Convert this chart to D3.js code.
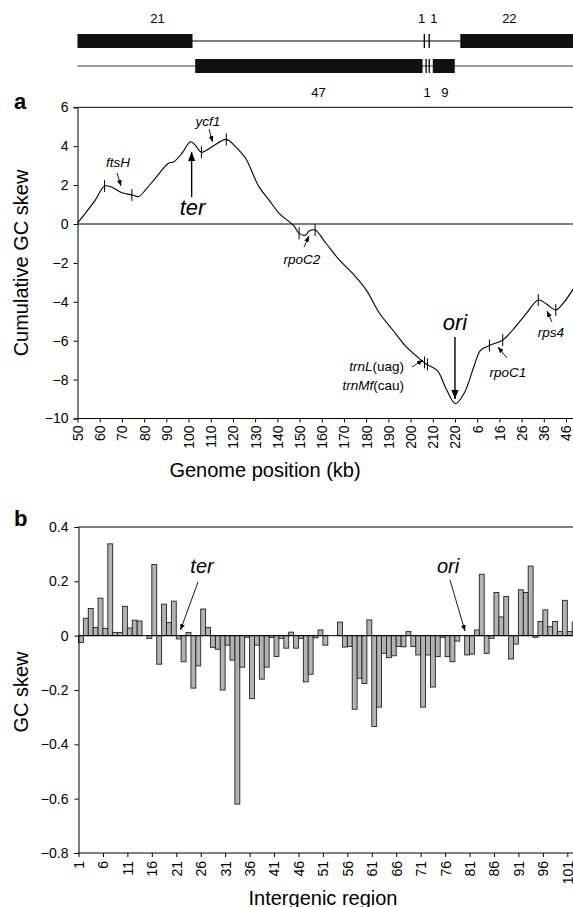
<!DOCTYPE html>
<html>
<head>
<meta charset="utf-8">
<script src="https://cdnjs.cloudflare.com/ajax/libs/d3/7.8.5/d3.min.js"></script>
<style>
	body { margin: 0; background: #fff; }
	svg { display: block; font-family: "Liberation Sans", Arial, sans-serif; }
</style>
</head>
<body>
<div id="chart"></div>
<script>
/*

*	Data

*/

// panel a : cumulative GC skew along the genome (kb, shifted so 6 = 230)
var genomeKb = [50, 53.5, 58, 62.2, 65.5, 70, 74.5, 77.5, 80.6, 85, 91, 93.4, 97, 100.9, 103, 105.8, 110.6, 117, 121.2, 125.7,
	131.7, 136.3, 140.8, 145.3, 147.5, 149.8, 152.8, 154.3, 157, 161.9, 167.9, 173.9, 180, 186, 192, 198, 205.3, 207, 212, 216,
	220.2, 224.3, 228.5, 231.5, 235.5, 241.5, 246, 252.2, 257.5, 261.2, 265.4, 268.7, 273.5];
var cumSkew = [0.05, 0.55, 1.23, 1.95, 1.89, 1.61, 1.49, 1.41, 1.75, 2.35, 3.12, 3.2, 3.63, 4.23, 4.06, 3.69, 3.97, 4.35, 3.97, 3.38,
	1.92, 1.23, 0.55, 0.12, -0.1, -0.48, -0.57, -0.36, -0.31, -0.99, -1.85, -2.54, -3.39, -4.59, -5.45, -6.31, -7.05, -7.2, -7.53, -8.47,
	-9.23, -8.66, -7.34, -6.5, -6.25, -5.97, -5.45, -4.59, -3.91, -4.11, -4.42, -4.08, -3.3];

var genomeTicks = [50, 60, 70, 80, 90, 100, 110, 120, 130, 140, 150, 160, 170, 180, 190, 200, 210, 220, 230, 240, 250, 260, 270];
var genomeTickLabels = ['50', '60', '70', '80', '90', '100', '110', '120', '130', '140', '150', '160', '170', '180', '190', '200',
	'210', '220', '6', '16', '26', '36', '46'];
var skewTicks = [6, 4, 2, 0, -2, -4, -6, -8, -10];

// gene boundaries marked on the curve
var markerKb = [62.2, 74.5, 105.8, 117, 149.8, 157, 206.3, 207.6, 235.5, 241.5, 257.5, 265.4];
var markerSkew = [1.95, 1.49, 3.69, 4.35, -0.48, -0.31, -7.12, -7.22, -6.25, -5.97, -3.91, -4.42];

// gene blocks above panel a : [start kb, end kb]
var strandTop = [[50, 101.8], [222.4, 275]];
var strandTopTicks = [206.2, 208.4];
var strandTopCountKb = [86, 205, 210.5, 244.5];
var strandTopCounts = ['21', '1', '1', '22'];
var strandBottom = [[103, 205.4], [210, 219.9]];
var strandBottomTicks = [207, 208.4];
var strandBottomCountKb = [158.5, 207.5, 215.5];
var strandBottomCounts = ['47', '1', '9'];

// panel b : GC skew of each intergenic region
var regionSkew = [-0.025, 0.064, 0.1, 0.03, 0.138, 0.027, 0.338, 0.012, 0.012, 0.108,
	0.028, 0.057, 0.054, 0, -0.01, 0.262, -0.105, 0.116, 0.048, 0.127,
	-0.012, -0.096, 0.012, -0.193, -0.111, 0.098, 0.03, -0.043, -0.05, -0.2,
	-0.035, -0.09, -0.62, -0.116, -0.006, -0.232, -0.035, -0.16, -0.116, -0.007,
	-0.077, -0.01, -0.046, 0.013, -0.046, -0.01, -0.17, -0.142, -0.008, 0.021,
	-0.035, 0, 0, 0.05, -0.042, -0.04, -0.271, -0.157, -0.176, 0.058,
	-0.334, -0.263, -0.065, -0.081, -0.074, -0.04, -0.041, 0.015, -0.04, -0.071,
	-0.263, -0.071, -0.189, -0.077, -0.006, -0.077, -0.096, -0.02, 0, -0.071,
	-0.068, 0.021, 0.226, -0.065, -0.01, 0.159, 0.069, 0.144, -0.086, -0.031,
	0.169, 0.159, 0.256, -0.006, 0.052, 0.095, 0.033, 0.052, 0.015, 0.13,
	0.015, 0.05];
var regionTicks = [1, 6, 11, 16, 21, 26, 31, 36, 41, 46, 51, 56, 61, 66, 71, 76, 81, 86, 91, 96, 101];
var regionSkewTicks = [0.4, 0.2, 0, -0.2, -0.4, -0.6, -0.8];

/*

*	Setup

*/

var W = 573, H = 907;

var svg = d3
	.select('#chart')
	.append('svg')
	.attr('width', W)
	.attr('height', H);

var defs = svg.append('defs');
function addArrow(id, size) {
	defs
		.append('marker')
		.attr('id', id)
		.attr('viewBox', '0 0 10 10')
		.attr('refX', 10)
		.attr('refY', 5)
		.attr('markerUnits', 'userSpaceOnUse')
		.attr('markerWidth', size)
		.attr('markerHeight', size)
		.attr('orient', 'auto')
		.append('path')
		.attr('d', 'M0,1 L10,5 L0,9 Z')
		.attr('fill', '#000');
}
addArrow('big', 9);
addArrow('small', 6);

function styleAxis(g) {
	g.selectAll('path, line').attr('stroke', '#000').attr('stroke-width', 1);
	g.selectAll('text').attr('font-size', 14).attr('fill', '#000').attr('font-family', '"Liberation Sans", Arial, sans-serif');
}

function arrow(g, x1, y1, x2, y2, kind) {
	g.append('line')
		.attr('x1', x1).attr('y1', y1)
		.attr('x2', x2).attr('y2', y2)
		.attr('stroke', '#000')
		.attr('stroke-width', kind == 'big' ? 1.4 : 0.9)
		.attr('marker-end', 'url(#' + kind + ')');
}

function italicLabel(g, x, y, size, anchor, parts) {
	var t = g.append('text').attr('x', x).attr('y', y).attr('font-size', size).attr('text-anchor', anchor);
	parts.forEach(function (p) {
		t.append('tspan').attr('font-style', p[1] ? 'italic' : 'normal').text(p[0]);
	});
}

/*

*	Panel a

*/

var xa = d3.scaleLinear().domain([50, 270]).range([77.5, 566]);
var ya = d3.scaleLinear().domain([-10, 6]).range([418.5, 107.3]);

// gene strands on top
var strands = svg.append('g');
strands.append('line').attr('x1', xa(50)).attr('x2', W).attr('y1', 41).attr('y2', 41).attr('stroke', '#000');
strands.append('line').attr('x1', xa(50)).attr('x2', W).attr('y1', 66).attr('y2', 66).attr('stroke', '#000').attr('stroke-width', 0.8);

strands.selectAll('rect.top')
	.data(strandTop)
	.enter()
	.append('rect')
	.attr('x', (d) => xa(d[0]))
	.attr('width', (d) => xa(d[1]) - xa(d[0]))
	.attr('y', 34)
	.attr('height', 14)
	.attr('fill', '#111');
strands.selectAll('rect.bottom')
	.data(strandBottom)
	.enter()
	.append('rect')
	.attr('x', (d) => xa(d[0]))
	.attr('width', (d) => xa(d[1]) - xa(d[0]))
	.attr('y', 59)
	.attr('height', 14)
	.attr('fill', '#111');
strands.selectAll('line.tt')
	.data(strandTopTicks)
	.enter()
	.append('line')
	.attr('x1', (d) => xa(d)).attr('x2', (d) => xa(d))
	.attr('y1', 34).attr('y2', 48)
	.attr('stroke', '#000').attr('stroke-width', 1.3);
strands.selectAll('line.bt')
	.data(strandBottomTicks)
	.enter()
	.append('line')
	.attr('x1', (d) => xa(d)).attr('x2', (d) => xa(d))
	.attr('y1', 59).attr('y2', 73)
	.attr('stroke', '#000').attr('stroke-width', 1.3);

strands.selectAll('text.tc')
	.data(strandTopCounts)
	.enter()
	.append('text')
	.attr('x', (d, i) => xa(strandTopCountKb[i]))
	.attr('y', 23)
	.attr('text-anchor', 'middle')
	.attr('font-size', 13)
	.text((d) => d);
strands.selectAll('text.bc')
	.data(strandBottomCounts)
	.enter()
	.append('text')
	.attr('x', (d, i) => xa(strandBottomCountKb[i]))
	.attr('y', 97)
	.attr('text-anchor', 'middle')
	.attr('font-size', 13)
	.text((d) => d);

var ga = svg.append('g');

ga.append('text').attr('x', 14).attr('y', 109).attr('font-size', 22).attr('font-weight', 'bold').text('a');

// frame top and zero line
ga.append('line').attr('x1', xa(50)).attr('x2', W).attr('y1', ya(6)).attr('y2', ya(6)).attr('stroke', '#000');
ga.append('line').attr('x1', xa(50)).attr('x2', W).attr('y1', ya(0)).attr('y2', ya(0)).attr('stroke', '#000');

ga.append('g')
	.attr('transform', 'translate(' + xa(50) + ',0)')
	.call(d3.axisLeft(ya).tickValues(skewTicks).tickSize(4).tickPadding(5).tickFormat(d3.format('d')))
	.call(styleAxis);

var xaAxis = ga.append('g')
	.attr('transform', 'translate(0,' + ya(-10) + ')')
	.call(d3.axisBottom(xa).tickValues(genomeTicks).tickSize(4).tickFormat((d, i) => genomeTickLabels[i]))
	.call(styleAxis);
xaAxis.select('.domain').attr('d', 'M' + xa(50) + ',0H' + W);
xaAxis.selectAll('text')
	.attr('transform', 'rotate(-90)')
	.attr('x', -7)
	.attr('y', 0)
	.attr('dy', '0.35em')
	.attr('text-anchor', 'end');

ga.append('text')
	.attr('transform', 'translate(28,' + 263 + ') rotate(-90)')
	.attr('text-anchor', 'middle')
	.attr('font-size', 20)
	.text('Cumulative GC skew');
ga.append('text')
	.attr('x', 265)
	.attr('y', 477)
	.attr('text-anchor', 'middle')
	.attr('font-size', 20)
	.text('Genome position (kb)');

var pts = genomeKb.map((d, i) => [d, cumSkew[i]]);
var line = d3
	.line()
	.x((d) => xa(d[0]))
	.y((d) => ya(d[1]))
	.curve(d3.curveCatmullRom.alpha(0.5));

ga.append('path')
	.datum(pts)
	.attr('d', line)
	.attr('fill', 'none')
	.attr('stroke', '#000')
	.attr('stroke-width', 1.1);

ga.selectAll('line.marker')
	.data(markerKb)
	.enter()
	.append('line')
	.attr('x1', (d) => xa(d)).attr('x2', (d) => xa(d))
	.attr('y1', (d, i) => ya(markerSkew[i]) - 6)
	.attr('y2', (d, i) => ya(markerSkew[i]) + 6)
	.attr('stroke', '#000')
	.attr('stroke-width', 1);

// gene names and arrows
italicLabel(ga, 118, 167, 13.5, 'middle', [['ftsH', 1]]);
arrow(ga, 117, 173, 121, 186, 'small');
italicLabel(ga, 208, 126, 13.5, 'middle', [['ycf1', 1]]);
arrow(ga, 209, 129, 212.5, 142, 'small');
italicLabel(ga, 302, 264, 13.5, 'middle', [['rpoC2', 1]]);
arrow(ga, 304, 247, 309, 236, 'small');
italicLabel(ga, 404, 371, 13.5, 'end', [['trnL', 1], ['(uag)', 0]]);
italicLabel(ga, 404, 390, 13.5, 'end', [['trnMf', 1], ['(cau)', 0]]);
arrow(ga, 412, 367, 423, 360, 'small');
italicLabel(ga, 508, 377, 13.5, 'middle', [['rpoC1', 1]]);
arrow(ga, 507, 358, 498, 347, 'small');
italicLabel(ga, 551, 337, 13.5, 'middle', [['rps4', 1]]);
arrow(ga, 552, 322, 547, 311, 'small');

italicLabel(ga, xa(101.8), 215, 22, 'middle', [['ter', 1]]);
arrow(ga, xa(101.4), 197, xa(101.4), 152, 'big');
italicLabel(ga, xa(220), 330, 22, 'middle', [['ori', 1]]);
arrow(ga, xa(220), 337, xa(220), 399, 'big');

/*

*	Panel b

*/

var xb = d3.scaleLinear().domain([1, 101]).range([78.5, 567.3]);
var yb = d3.scaleLinear().domain([-0.8, 0.4]).range([853, 527]);
var step = xb(2) - xb(1);

var gb = svg.append('g');

gb.append('text').attr('x', 14).attr('y', 526).attr('font-size', 22).attr('font-weight', 'bold').text('b');

gb.append('line').attr('x1', xb(1)).attr('x2', W).attr('y1', yb(0.4)).attr('y2', yb(0.4)).attr('stroke', '#000');

var bars = regionSkew.map((d, i) => ({ region: i + 1, skew: d })).filter((d) => d.skew != 0);

gb.selectAll('rect')
	.data(bars)
	.enter()
	.append('rect')
	.attr('x', (d) => xb(d.region))
	.attr('width', step)
	.attr('y', (d) => yb(Math.max(0, d.skew)))
	.attr('height', (d) => Math.abs(yb(d.skew) - yb(0)))
	.attr('fill', '#b3b3b3')
	.attr('stroke', '#222')
	.attr('stroke-width', 0.9);

gb.append('line').attr('x1', xb(1)).attr('x2', W).attr('y1', yb(0)).attr('y2', yb(0)).attr('stroke', '#000');

gb.append('g')
	.attr('transform', 'translate(' + xb(1) + ',0)')
	.call(d3.axisLeft(yb).tickValues(regionSkewTicks).tickSize(4).tickPadding(6).tickFormat((d) => (d == 0 ? '0' : d3.format('.1f')(d))))
	.call(styleAxis);

var xbAxis = gb.append('g')
	.attr('transform', 'translate(0,' + yb(-0.8) + ')')
	.call(d3.axisBottom(xb).tickValues(regionTicks).tickSize(4).tickFormat(d3.format('d')))
	.call(styleAxis);
xbAxis.select('.domain').attr('d', 'M' + xb(1) + ',0H' + W);
xbAxis.selectAll('text')
	.attr('transform', 'rotate(-90)')
	.attr('x', -8)
	.attr('y', 0)
	.attr('dy', '0.35em')
	.attr('text-anchor', 'end');

gb.append('text')
	.attr('transform', 'translate(28,' + 692 + ') rotate(-90)')
	.attr('text-anchor', 'middle')
	.attr('font-size', 20)
	.text('GC skew');
gb.append('text')
	.attr('x', 323)
	.attr('y', 905)
	.attr('text-anchor', 'middle')
	.attr('font-size', 20)
	.text('Intergenic region');

italicLabel(gb, 202, 573, 20, 'middle', [['ter', 1]]);
arrow(gb, 198, 582, 180.5, 630, 'small');
italicLabel(gb, 448, 573, 20, 'middle', [['ori', 1]]);
arrow(gb, 450, 580, 465, 631, 'small');
</script>
</body>
</html>
